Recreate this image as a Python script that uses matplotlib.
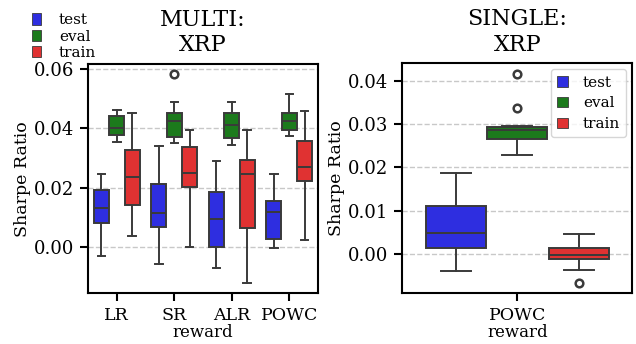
import matplotlib
matplotlib.use("Agg")
import matplotlib.pyplot as plt
from matplotlib.patches import Patch

# ---- data ----
SPLITS = ["test", "eval", "train"]
COLORS = ["#2e2ee0", "#1c7a1c", "#e03232"]

MULTI_REWARDS = ["LR", "SR", "ALR", "POWC"]
# rows: reward, cols: test / eval / train
multi_whislo = [[-0.0029, 0.0354, 0.0037],
                [-0.0054, 0.0350, 0.0003],
                [-0.0068, 0.0345, -0.0118],
                [-0.0002, 0.0373, 0.0025]]
multi_q1 = [[0.0083, 0.0379, 0.0143],
            [0.0069, 0.0372, 0.0204],
            [0.0000, 0.0369, 0.0066],
            [0.0028, 0.0395, 0.0224]]
multi_med = [[0.0131, 0.0401, 0.0237],
             [0.0116, 0.0423, 0.0251],
             [0.0095, 0.0411, 0.0246],
             [0.0120, 0.0426, 0.0271]]
multi_q3 = [[0.0193, 0.0441, 0.0328],
            [0.0214, 0.0453, 0.0338],
            [0.0186, 0.0453, 0.0295],
            [0.0156, 0.0450, 0.0359]]
multi_whishi = [[0.0246, 0.0460, 0.0453],
                [0.0342, 0.0490, 0.0395],
                [0.0290, 0.0490, 0.0393],
                [0.0245, 0.0516, 0.0459]]
multi_fliers = [[[], [], []],
                [[], [0.0582], []],
                [[], [], []],
                [[], [], []]]

SINGLE_REWARDS = ["POWC"]
single_whislo = [[-0.0039, 0.0230, -0.0036]]
single_q1 = [[0.0014, 0.0267, -0.0011]]
single_med = [[0.0049, 0.0286, -0.0002]]
single_q3 = [[0.0111, 0.0294, 0.0014]]
single_whishi = [[0.0188, 0.0296, 0.0045]]
single_fliers = [[[], [0.0416, 0.0337], [-0.0067]]]

# ---- style ----
plt.rcParams.update({
    "font.family": "serif",
    "font.serif": ["DejaVu Serif"],
    "font.size": 12.5,
    "xtick.labelsize": 12.5,
    "ytick.labelsize": 13,
    "axes.linewidth": 1.5,
    "xtick.major.width": 1.5,
    "ytick.major.width": 1.5,
    "xtick.major.size": 6,
    "ytick.major.size": 6,
    "xtick.major.pad": 3.9,
    "ytick.major.pad": 4,
})
EDGE = "#3a3a3a"
OFFSET = 0.267
WIDTH = 0.26


def draw(ax, rewards, whislo, q1, med, q3, whishi, fliers):
    for i in range(len(rewards)):
        for j in range(len(SPLITS)):
            st = dict(whislo=whislo[i][j], q1=q1[i][j], med=med[i][j],
                      q3=q3[i][j], whishi=whishi[i][j], fliers=fliers[i][j])
            ax.bxp([st], positions=[i + (j - 1) * OFFSET], widths=WIDTH,
                   capwidths=WIDTH / 2, patch_artist=True,
                   boxprops=dict(facecolor=COLORS[j], edgecolor=EDGE, lw=1.4),
                   medianprops=dict(color=EDGE, lw=1.4),
                   whiskerprops=dict(color=EDGE, lw=1.4),
                   capprops=dict(color=EDGE, lw=1.4),
                   flierprops=dict(marker="o", mfc="none", mec=EDGE, ms=5.5, mew=1.8),
                   manage_ticks=False, zorder=3)
    ax.set_xticks(range(len(rewards)))
    ax.set_xticklabels(rewards)
    ax.set_xlim(-0.5, len(rewards) - 0.5)
    ax.set_xlabel("reward", fontsize=12, labelpad=0)
    ax.set_ylabel("Sharpe Ratio", labelpad=2)
    ax.yaxis.grid(True, ls="--", color="#c8c8c8", lw=1.0, zorder=0)
    ax.set_axisbelow(True)


fig = plt.figure(figsize=(6.36, 3.44), dpi=100)
ax1 = fig.add_axes([0.1384, 0.1474, 0.3616, 0.6666])
ax2 = fig.add_axes([0.6326, 0.1474, 0.3616, 0.6686])

draw(ax1, MULTI_REWARDS, multi_whislo, multi_q1, multi_med, multi_q3,
     multi_whishi, multi_fliers)
ax1.set_ylim(-0.0154, 0.0616)
ax1.set_yticks([0.00, 0.02, 0.04, 0.06])
ax1.set_title("MULTI:\nXRP", fontsize=16, pad=9)

draw(ax2, SINGLE_REWARDS, single_whislo, single_q1, single_med, single_q3,
     single_whishi, single_fliers)
ax2.set_ylim(-0.0091, 0.0441)
ax2.set_yticks([0.00, 0.01, 0.02, 0.03, 0.04])
ax2.set_title("SINGLE:\nXRP", fontsize=16, pad=9)

handles = [Patch(facecolor=c, edgecolor=EDGE, lw=0.6, label=s)
           for c, s in zip(COLORS, SPLITS)]
fig.legend(handles=handles, loc="upper left", bbox_to_anchor=(0.035, 0.99),
           frameon=False, fontsize=11, handlelength=0.55, handleheight=0.75,
           handletextpad=1.2, labelspacing=0.15, borderaxespad=0.25)
ax2.legend(handles=handles, loc="upper right", fontsize=11, handlelength=0.7,
           handleheight=0.7, handletextpad=1.0, labelspacing=0.45,
           borderaxespad=0.4, framealpha=0.8)

fig.savefig("out.png", dpi=100)
